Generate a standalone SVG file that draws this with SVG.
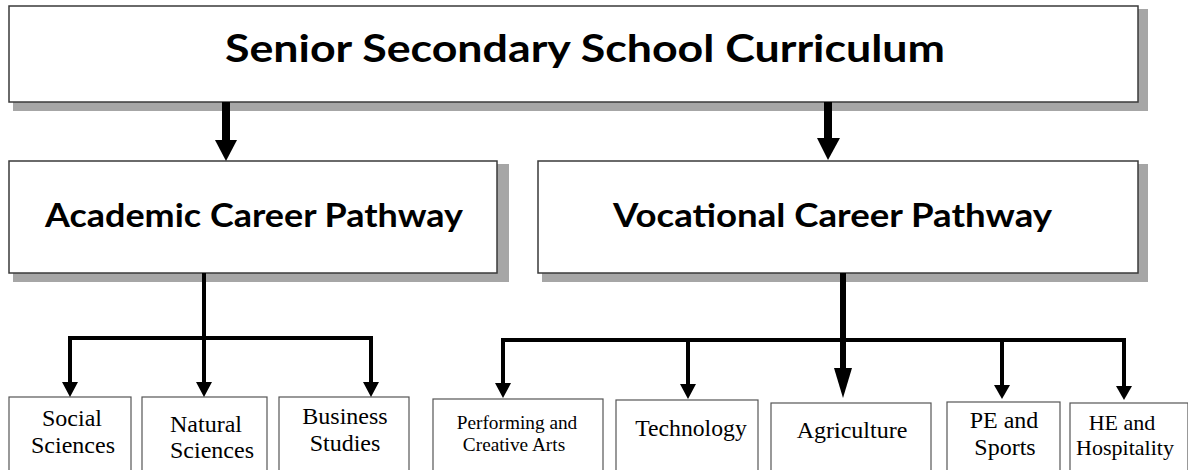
<svg xmlns="http://www.w3.org/2000/svg" width="1188" height="470" viewBox="0 0 1188 470">
<style>
.shadow{fill:#a6a6a6}
.box{fill:#fff;stroke:#3a3a3a;stroke-width:1.5}
.sub{fill:#fff;stroke:#555;stroke-width:1.2}
.h1{font-family:Lato,"Liberation Sans",sans-serif;font-weight:bold;fill:#000}
.t{font-family:"Liberation Serif","Times New Roman",serif;fill:#000;text-anchor:middle}
.ln{fill:none;stroke:#000;stroke-width:4}
.head{fill:#000}
</style>
<rect width="1188" height="470" fill="#fff"/>
<g id="curriculum">
<rect class="shadow" x="13" y="9" width="1135" height="102"/>
<rect class="box" x="9" y="6" width="1129" height="96"/>
<text class="h1" x="225" y="62" font-size="38" textLength="720" lengthAdjust="spacingAndGlyphs">Senior Secondary School Curriculum</text>
</g>
<g id="academic">
<rect class="shadow" x="13" y="164" width="496" height="118"/>
<rect class="box" x="9" y="161" width="488" height="112"/>
<text class="h1" x="45" y="227" font-size="33" textLength="418" lengthAdjust="spacingAndGlyphs">Academic Career Pathway</text>
</g>
<g id="vocational">
<rect class="shadow" x="542" y="164" width="606" height="118"/>
<rect class="box" x="538" y="161" width="600" height="112"/>
<text class="h1" x="613" y="227" font-size="33" textLength="439" lengthAdjust="spacingAndGlyphs">Vocational Career Pathway</text>
</g>
<g id="social">
<rect class="sub" x="9" y="397" width="122" height="80"/>
<text class="t" font-size="24"><tspan x="72" y="426">Social</tspan><tspan x="73" y="453">Sciences</tspan></text>
</g>
<g id="natural">
<rect class="sub" x="142" y="397" width="125" height="80"/>
<text class="t" font-size="24"><tspan x="206" y="432">Natural</tspan><tspan x="212" y="458">Sciences</tspan></text>
</g>
<g id="business">
<rect class="sub" x="279" y="397" width="130" height="80"/>
<text class="t" font-size="24"><tspan x="345" y="424">Business</tspan><tspan x="345" y="451">Studies</tspan></text>
</g>
<g id="performing">
<rect class="sub" x="433" y="399" width="170" height="80"/>
<text class="t" font-size="19.3"><tspan x="517" y="429">Performing and</tspan><tspan x="514" y="451">Creative Arts</tspan></text>
</g>
<g id="technology">
<rect class="sub" x="616" y="400" width="142" height="80"/>
<text class="t" font-size="23.7" x="691" y="436">Technology</text>
</g>
<g id="agriculture">
<rect class="sub" x="771" y="403" width="160" height="80"/>
<text class="t" font-size="24" x="852" y="438">Agriculture</text>
</g>
<g id="pe">
<rect class="sub" x="947" y="402" width="113" height="80"/>
<text class="t" font-size="24"><tspan x="1004" y="428">PE and</tspan><tspan x="1005" y="455">Sports</tspan></text>
</g>
<g id="he">
<rect class="sub" x="1070" y="403" width="118" height="80"/>
<text class="t" font-size="22"><tspan x="1122" y="430">HE and</tspan><tspan x="1125" y="455">Hospitality</tspan></text>
</g>
<g id="connectors">
<line x1="226" y1="102" x2="226" y2="141" stroke="#000" stroke-width="8"/>
<polygon class="head" points="215,140 237,140 226,161"/>
<line x1="828" y1="102" x2="828" y2="139" stroke="#000" stroke-width="8"/>
<polygon class="head" points="817,138 840,138 828,160"/>
<polyline class="ln" points="70,384 70,338 371,338 371,384"/>
<line class="ln" x1="204" y1="273" x2="204" y2="384"/>
<polygon class="head" points="62,382 78,382 70,397"/>
<polygon class="head" points="196,382 212,382 204,397"/>
<polygon class="head" points="363,382 379,382 371,397"/>
<polyline class="ln" points="503,385 503,340 1124,340 1124,387"/>
<line class="ln" x1="688" y1="340" x2="688" y2="386"/>
<line class="ln" x1="1002" y1="340" x2="1002" y2="386"/>
<line x1="843" y1="273" x2="843" y2="370" stroke="#000" stroke-width="6"/>
<polygon class="head" points="495,383 511,383 503,398"/>
<polygon class="head" points="680,384 696,384 688,399"/>
<polygon class="head" points="834,368 852,368 843,398"/>
<polygon class="head" points="994,385 1010,385 1002,399"/>
<polygon class="head" points="1116,386 1132,386 1124,400"/>
</g>
</svg>
